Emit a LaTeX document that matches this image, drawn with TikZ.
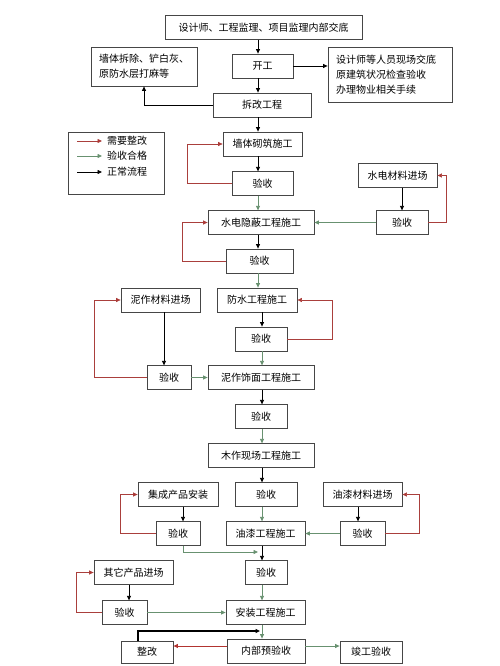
\documentclass[tikz,border=0pt]{standalone}
\usepackage{fontspec}
\setmainfont{Noto Sans CJK SC}
\usetikzlibrary{arrows.meta}
\definecolor{fixred}{RGB}{178,52,48}
\definecolor{passgreen}{RGB}{104,145,112}
\definecolor{boxgray}{RGB}{70,70,70}

\begin{document}
\begin{tikzpicture}[x=1pt,y=-1pt]
        \tikzstyle{every node}+=[inner sep=0pt, font=\fontsize{10}{15}\selectfont]
        \tikzstyle{box}=[draw=boxgray, line width=0.8pt, minimum height=23.5pt]
        \tikzstyle{flow}=[black, line width=0.8pt, -{Triangle[length=4.5pt,width=4pt]}]
        \tikzstyle{pass}=[passgreen, line width=0.8pt, -{Triangle[length=4.5pt,width=4pt]}]
        \tikzstyle{fix}=[fixred!85!gray, line width=0.65pt, -{Triangle[length=4.5pt,width=4pt,fill=fixred]}]
        \useasboundingbox (0,0) rectangle (500,666);
        \coordinate (colA) at (258,0);
        \coordinate (colB) at (262,0);
        \coordinate (colNz) at (164,0);
        \coordinate (colJc) at (183,0);
        \coordinate (colYq) at (358,0);
        \coordinate (colQt) at (129,0);
        \coordinate (colZg) at (138,0);
        \coordinate (rowYs) at (0,646);
        % top part
        \node [box, minimum width=197pt] (jiaodi) at (263.5,27.5) {设计师、工程监理、项目监理内部交底};
        \node [box, minimum width=61pt, minimum height=24pt] (kaigong) at (262.5,66) {开工};
        \node [box, minimum width=106pt, minimum height=39pt, align=left] (chaichu) at (144,66.5) {墙体拆除、铲白灰、\\原防水层打麻等};
        \node [box, text width=108pt, minimum height=55pt, inner xsep=8pt, align=left] (xianchang) at (390,74.5) {设计师等人员现场交底\\原建筑状况检查验收\\办理物业相关手续};
        \node [box, minimum width=98pt, minimum height=24pt] (chaigai) at (262,105) {拆改工程};
        % legend
        \draw [boxgray, line width=0.8pt] (68,132) rectangle (164,194);
        \coordinate (k1) at (77,141);
        \coordinate (k2) at (77,156);
        \coordinate (k3) at (77,172);
        \node [anchor=west] (t1) at (107,141) {需要整改};
        \node [anchor=west] (t2) at (107,156) {验收合格};
        \node [anchor=west] (t3) at (107,172) {正常流程};
        \draw [fix] (k1) -- ++(25,0);
        \draw [pass] (k2) -- ++(25,0);
        \draw [flow] (k3) -- ++(25,0);
        % main column
        \node [box, minimum width=79pt, minimum height=24pt] (qizhu) at (262.5,144) {墙体砌筑施工};
        \node [box, minimum width=61pt] (ys1) at (262.5,183.5) {验收};
        \node [box, minimum width=79pt] (sdcl) at (397.5,175.5) {水电材料进场};
        \node [box, minimum width=106pt] (sdyb) at (261,222.5) {水电隐蔽工程施工};
        \node [box, minimum width=52pt] (yssd) at (402,222.5) {验收};
        \node [box, minimum width=67pt, minimum height=24pt] (ys2) at (259.5,261) {验收};
        \node [box, minimum width=79pt, minimum height=24pt] (nzcl) at (160.5,300) {泥作材料进场};
        \node [box, minimum width=80pt, minimum height=24pt] (fangshui) at (257,300) {防水工程施工};
        \node [box, minimum width=52pt, minimum height=24pt] (ys3) at (261,339) {验收};
        \node [box, minimum width=44pt] (ysnz) at (169,377.5) {验收};
        \node [box, minimum width=106pt] (nzsm) at (261,377.5) {泥作饰面工程施工};
        \node [box, minimum width=52pt] (ys4) at (261,416.5) {验收};
        \node [box, minimum width=106pt] (muzuo) at (261,455.5) {木作现场工程施工};
        \node [box, minimum width=80pt] (jicheng) at (178,494.5) {集成产品安装};
        \node [box, minimum width=62pt] (ysmz) at (266,494.5) {验收};
        \node [box, minimum width=79pt] (yqcl) at (362.5,494.5) {油漆材料进场};
        \node [box, minimum width=44pt] (ysjc) at (178,533.5) {验收};
        \node [box, minimum width=79pt] (youqi) at (265.5,533.5) {油漆工程施工};
        \node [box, minimum width=45pt] (ysyq) at (362.5,533.5) {验收};
        \node [box, minimum width=42pt] (ys5) at (266,572.5) {验收};
        \node [box, minimum width=79pt] (qita) at (133.5,572.5) {其它产品进场};
        \node [box, minimum width=45pt] (ysqt) at (124.5,612.5) {验收};
        \node [box, minimum width=79pt] (anzhuang) at (265.5,612.5) {安装工程施工};
        \node [box, minimum width=52pt, minimum height=22pt] (zhenggai) at (147,652) {整改};
        \node [box, minimum width=78pt, minimum height=24pt] (neibu) at (266,651) {内部预验收};
        \node [box, minimum width=62pt, minimum height=22pt] (jungong) at (371,652) {竣工验收};
        \coordinate (huiru) at (258,552);
        \coordinate (fanhui) at (260,631);
        % top arrows
        \draw [flow] (jiaodi.south -| colA) -- (kaigong.north -| colA);
        \draw [flow] (kaigong.south -| colA) -- (chaigai.north -| colA);
        \draw [flow] (kaigong.east) -- (xianchang.west |- kaigong.east);
        \draw [flow] (chaigai.west) -| (chaichu.south);
        \draw [flow] (chaigai.south -| colA) -- (qizhu.north -| colA);
        \draw [flow] (qizhu.south -| colA) -- (ys1.north -| colA);
        \draw [fix] (ys1.west) -- ++(-44,0) |- (qizhu.west);
        \draw [pass] (ys1.south -| colA) -- (sdyb.north -| colA);
        % shuidian
        \draw [flow] (yssd.north |- sdcl.south) -- (yssd.north);
        \draw [fix] (yssd.east) -- ++(18,0) |- (sdcl.east);
        \draw [pass] (yssd.west) -- (sdyb.east);
        \draw [flow] (sdyb.south -| colA) -- (ys2.north -| colA);
        \draw [fix] (ys2.west) -- ++(-43,0) |- (sdyb.west);
        \draw [pass] (ys2.south -| colA) -- (fangshui.north -| colA);
        % fangshui, nizuo
        \draw [flow] (fangshui.south -| colB) -- (ys3.north -| colB);
        \draw [fix] (ys3.east) -- ++(45,0) |- (fangshui.east);
        \draw [pass] (ys3.south -| colB) -- (nzsm.north -| colB);
        \draw [flow] (nzcl.south -| colNz) -- (ysnz.north -| colNz);
        \draw [fix] (ysnz.west) -- ++(-52,0) |- (nzcl.west);
        \draw [pass] (ysnz.east) -- (nzsm.west);
        \draw [flow] (nzsm.south -| colB) -- (ys4.north -| colB);
        \draw [pass] (ys4.south -| colB) -- (muzuo.north -| colB);
        \draw [flow] (muzuo.south -| colB) -- (ysmz.north -| colB);
        % youqi
        \draw [flow] (jicheng.south -| colJc) -- (ysjc.north -| colJc);
        \draw [fix] (ysjc.west) -- ++(-35,0) |- (jicheng.west);
        \draw [pass] (ysjc.south -| colJc) |- (huiru);
        \draw [pass] (ysmz.south -| colB) -- (youqi.north -| colB);
        \draw [flow] (yqcl.south -| colYq) -- (ysyq.north -| colYq);
        \draw [fix] (ysyq.east) -- ++(34,0) |- (yqcl.east);
        \draw [pass] (ysyq.west) -- (youqi.east);
        \draw [flow] (youqi.south -| colB) -- (ys5.north -| colB);
        % anzhuang
        \draw [flow] (qita.south -| colQt) -- (ysqt.north -| colQt);
        \draw [fix] (ysqt.west) -- ++(-25,0) |- (qita.west);
        \draw [pass] (ysqt.east) -- (anzhuang.west);
        \draw [pass] (ys5.south -| colB) -- (anzhuang.north -| colB);
        \draw [pass] (anzhuang.south -| colB) -- (neibu.north -| colB);
        % yanshou
        \draw [fix, fixred, line width=0.9pt] (neibu.west |- rowYs) -- (zhenggai.east |- rowYs);
        \draw [pass] (neibu.east |- rowYs) -- (jungong.west |- rowYs);
        \draw [flow, line width=1.1pt] (zhenggai.north -| colZg) |- (fanhui);
    \end{tikzpicture}
\end{document}
